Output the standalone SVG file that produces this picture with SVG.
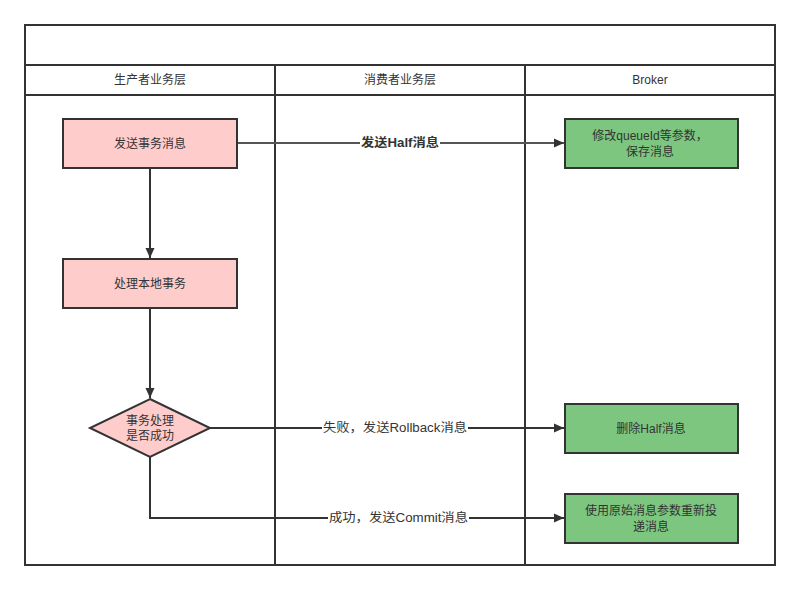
<svg xmlns="http://www.w3.org/2000/svg" width="800" height="590" viewBox="0 0 800 590">
<defs>
<marker id="arr" viewBox="0 0 10 10" refX="10" refY="5" markerWidth="10" markerHeight="10" markerUnits="userSpaceOnUse" orient="auto">
<path d="M0,0.5 L10,5 L0,9.5 Z" fill="#333"/>
</marker>
<style>
text{font-family:"Liberation Sans","Noto Sans CJK SC",sans-serif;font-size:12px;fill:#333;text-anchor:middle;dominant-baseline:central}
.lane{fill:none;stroke:#333;stroke-width:2}
.pink{fill:#FFCCCC;stroke:#333;stroke-width:2}
.green{fill:#7DC67F;stroke:#333;stroke-width:2}
.edge{fill:none;stroke:#333;stroke-width:2;marker-end:url(#arr)}
.lbl{fill:#fff}
</style>
</defs>
<rect width="800" height="590" fill="#fff"/>
<g id="pool">
<rect class="lane" x="25" y="25" width="750" height="540"/>
<line class="lane" x1="25" y1="65" x2="775" y2="65"/>
<line class="lane" x1="25" y1="95" x2="775" y2="95"/>
<line class="lane" x1="275" y1="65" x2="275" y2="565"/>
<line class="lane" x1="525" y1="65" x2="525" y2="565"/>
<text x="150" y="80">生产者业务层</text>
<text x="400" y="80">消费者业务层</text>
<text x="650" y="80">Broker</text>
</g>
<g id="connectors">
<line class="edge" x1="150" y1="168" x2="150" y2="258"/>
<line class="edge" x1="150" y1="308" x2="150" y2="398"/>
<path class="edge" d="M237,143 L564,143" style="stroke:#555"/>
<path class="edge" d="M210,428 L564,428"/>
<path class="edge" d="M150,457 L150,518 L564,518"/>
<rect class="lbl" x="360" y="135" width="80" height="16"/>
<text x="400" y="143" style="font-weight:bold" textLength="78" lengthAdjust="spacingAndGlyphs">发送Half消息</text>
<rect class="lbl" x="322" y="420" width="146" height="16"/>
<text x="395" y="428" textLength="144" lengthAdjust="spacingAndGlyphs">失败，发送Rollback消息</text>
<rect class="lbl" x="328" y="510" width="141" height="16"/>
<text x="398.5" y="518" textLength="139" lengthAdjust="spacingAndGlyphs">成功，发送Commit消息</text>
</g>
<g id="send">
<rect class="pink" x="63" y="119" width="174" height="49"/>
<text x="150" y="144">发送事务消息</text>
</g>
<g id="local">
<rect class="pink" x="63" y="259" width="174" height="49"/>
<text x="150" y="284">处理本地事务</text>
</g>
<g id="decide">
<polygon class="pink" points="150,399 210,428 150,457 90,428"/>
<text x="150" y="421">事务处理</text>
<text x="150" y="436">是否成功</text>
</g>
<g id="modify">
<rect class="green" x="565" y="119" width="173" height="49"/>
<text x="650" y="136">修改queueId等参数，</text>
<text x="650" y="152">保存消息</text>
</g>
<g id="delete">
<rect class="green" x="565" y="404" width="173" height="49"/>
<text x="651" y="429">删除Half消息</text>
</g>
<g id="redeliver">
<rect class="green" x="565" y="494" width="173" height="49"/>
<text x="651" y="511">使用原始消息参数重新投</text>
<text x="651" y="527">递消息</text>
</g>
</svg>
